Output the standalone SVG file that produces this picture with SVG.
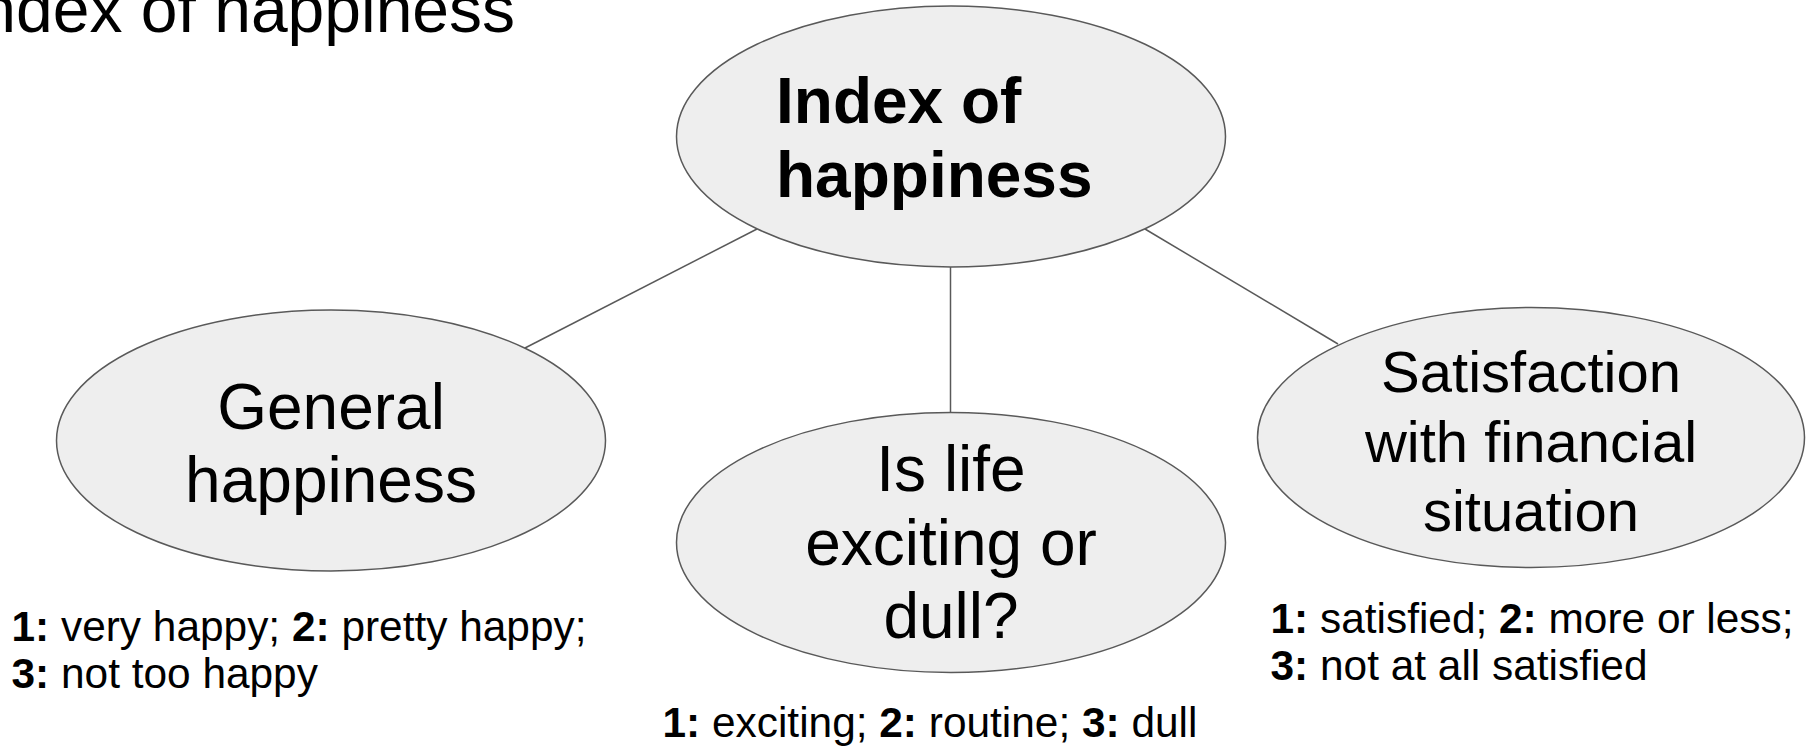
<svg xmlns="http://www.w3.org/2000/svg" width="1806" height="748" viewBox="0 0 1806 748">
<style>
.n{fill:#eeeeee;stroke:#595959;stroke-width:1.5}
.c{stroke:#595959;stroke-width:1.5;fill:none}
text{font-family:"Liberation Sans",Arial,sans-serif;fill:#000}
.lbl{font-size:64px;text-anchor:middle}
.lbs{font-size:58px;text-anchor:middle}
.cap{font-size:42.4px}
.b{font-weight:bold}
</style>
<rect width="1806" height="748" fill="#fff"/>
<text x="-39" y="32" font-size="66">Index of happiness</text>
<g id="connectors">
<line class="c" x1="757" y1="229" x2="525" y2="348"/>
<line class="c" x1="950.5" y1="267" x2="950.5" y2="412"/>
<line class="c" x1="1145" y1="229" x2="1338" y2="344"/>
</g>
<g id="root">
<ellipse class="n" cx="951" cy="136.5" rx="274.5" ry="130.5"/>
<text x="776" y="123" font-size="64" font-weight="bold">Index of</text>
<text x="776" y="196.6" font-size="64" font-weight="bold">happiness</text>
</g>
<g id="general">
<ellipse class="n" cx="331" cy="440.5" rx="274.5" ry="130.5"/>
<text class="lbl" x="331" y="428.5">General</text>
<text class="lbl" x="331" y="502">happiness</text>
</g>
<g id="exciting">
<ellipse class="n" cx="951" cy="542.5" rx="274.5" ry="130"/>
<text class="lbl" x="951" y="491">Is life</text>
<text class="lbl" x="951" y="564.5">exciting or</text>
<text class="lbl" x="951" y="638">dull?</text>
</g>
<g id="satisfaction">
<ellipse class="n" cx="1531" cy="437.5" rx="273.5" ry="130"/>
<text class="lbs" x="1531" y="391.6">Satisfaction</text>
<text class="lbs" x="1531" y="461.5">with financial</text>
<text class="lbs" x="1531" y="531">situation</text>
</g>
<g id="general-values">
<text class="cap" x="11.5" y="640.5"><tspan class="b">1:</tspan> very happy; <tspan class="b">2:</tspan> pretty happy;</text>
<text class="cap" x="11.5" y="687.5"><tspan class="b">3:</tspan> not too happy</text>
</g>
<g id="exciting-values">
<text class="cap" x="662.5" y="737"><tspan class="b">1:</tspan> exciting; <tspan class="b">2:</tspan> routine; <tspan class="b">3:</tspan> dull</text>
</g>
<g id="satisfaction-values">
<text class="cap" x="1270.5" y="632.5"><tspan class="b">1:</tspan> satisfied; <tspan class="b">2:</tspan> more or less;</text>
<text class="cap" x="1270.5" y="679.5"><tspan class="b">3:</tspan> not at all satisfied</text>
</g>
</svg>
